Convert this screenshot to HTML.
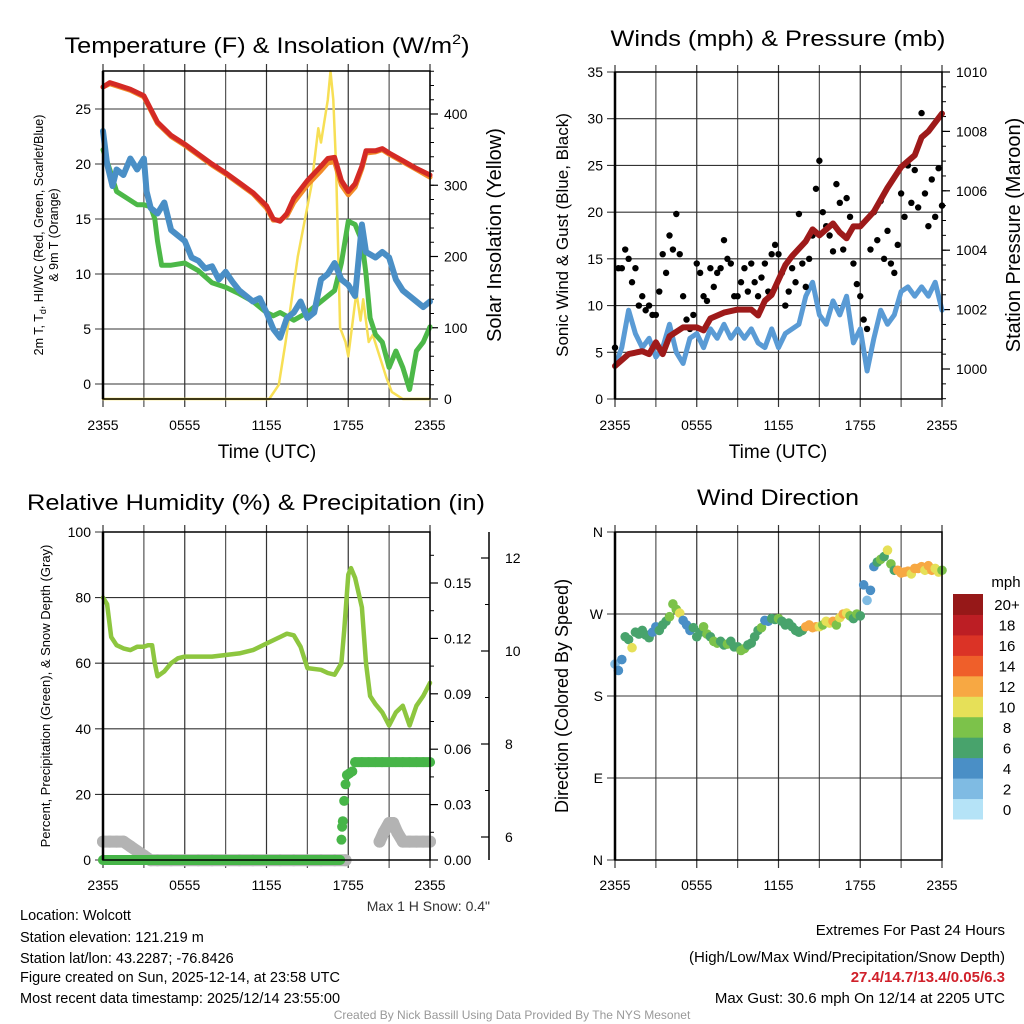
<!DOCTYPE html>
<html><head><meta charset="utf-8"><style>
html,body{margin:0;padding:0;background:#fff;}
svg{display:block;font-family:"Liberation Sans",Arial,sans-serif;}
</style></head><body>
<svg id="fig" width="1024" height="1024" viewBox="0 0 1024 1024" xmlns="http://www.w3.org/2000/svg">
<rect x="0" y="0" width="1024" height="1024" fill="#fff"/>
<g id="layer"></g>
<text x="267" y="53" font-size="22" text-anchor="middle" textLength="405" lengthAdjust="spacingAndGlyphs">Temperature (F) &amp; Insolation (W/m<tspan font-size="14" dy="-9">2</tspan><tspan dy="9">)</tspan></text>
<text x="778" y="46" font-size="22" text-anchor="middle" textLength="335" lengthAdjust="spacingAndGlyphs">Winds (mph) &amp; Pressure (mb)</text>
<text x="256" y="510" font-size="22" text-anchor="middle" textLength="458" lengthAdjust="spacingAndGlyphs">Relative Humidity (%) &amp; Precipitation (in)</text>
<text x="778" y="505" font-size="22" text-anchor="middle" textLength="162" lengthAdjust="spacingAndGlyphs">Wind Direction</text>

<text x="267" y="458" font-size="19" text-anchor="middle">Time (UTC)</text>
<text x="778" y="458" font-size="19" text-anchor="middle">Time (UTC)</text>
<text transform="translate(43,235) rotate(-90)" font-size="12.5" text-anchor="middle">2m T, T<tspan font-size="9" dy="3">d</tspan><tspan dy="-3">, HI/WC (Red, Green, Scarlet/Blue)</tspan></text>
<text transform="translate(58,235) rotate(-90)" font-size="12.5" text-anchor="middle">&amp; 9m T (Orange)</text>
<text transform="translate(501,235) rotate(-90)" font-size="20" text-anchor="middle">Solar Insolation (Yellow)</text>
<text transform="translate(568,235) rotate(-90)" font-size="17" text-anchor="middle">Sonic Wind &amp; Gust (Blue, Black)</text>
<text transform="translate(1020,235) rotate(-90)" font-size="20" text-anchor="middle">Station Pressure (Maroon)</text>
<text transform="translate(50,696) rotate(-90)" font-size="13" text-anchor="middle">Percent, Precipitation (Green), &amp; Snow Depth (Gray)</text>
<text transform="translate(568,696) rotate(-90)" font-size="18" text-anchor="middle">Direction (Colored By Speed)</text>
<text x="490" y="911" font-size="14" text-anchor="end" fill="#333">Max 1 H Snow: 0.4"</text>

<g font-size="14.5">
<text x="20" y="920">Location: Wolcott</text>
<text x="20" y="942">Station elevation: 121.219 m</text>
<text x="20" y="963">Station lat/lon: 43.2287; -76.8426</text>
<text x="20" y="982">Figure created on Sun, 2025-12-14, at 23:58 UTC</text>
<text x="20" y="1003">Most recent data timestamp: 2025/12/14 23:55:00</text>
</g>
<g font-size="15" text-anchor="end">
<text x="1005" y="935">Extremes For Past 24 Hours</text>
<text x="1005" y="962">(High/Low/Max Wind/Precipitation/Snow Depth)</text>
<text x="1005" y="982" fill="#d0202a" font-weight="bold">27.4/14.7/13.4/0.05/6.3</text>
<text x="1005" y="1003">Max Gust: 30.6 mph On 12/14 at 2205 UTC</text>
</g>
<text x="512" y="1019" font-size="12" text-anchor="middle" fill="#999">Created By Nick Bassill Using Data Provided By The NYS Mesonet</text>
</svg>
<script>
// ---------- data ----------
const xTickLabels = ["2355","0555","1155","1755","2355"];
const tempLeftTicks = [0,5,10,15,20,25];
const insolTicks = [0,100,200,300,400];
const windTicks = [0,5,10,15,20,25,30,35];
const pressTicks = [1000,1002,1004,1006,1008,1010];
const rhTicks = [0,20,40,60,80,100];
const precipTicks = [0.00,0.03,0.06,0.09,0.12,0.15];
const snowTicks = [6,8,10,12];
const dirTicks = ["N","E","S","W","N"];
const speedBins = ["0","2","4","6","8","10","12","14","16","18","20+"];
const speedColors = ["#b5e3f7","#7fbbe3","#4a8fc6","#48a36c","#7cc24a","#e6e058","#f7a843","#ef5f2a","#db3326","#bc1e24","#961818"];

const tempHours = [0,0.5,1,2,3,3.5,4,5,6,7,8,9,10,11,12,12.5,13,13.5,14,15,16,16.5,17,17.5,18,18.5,19,19.3,20,20.5,21,22,23,24];
const tempValues = [27.0,27.4,27.2,26.8,26.2,25.0,23.8,22.6,21.8,20.9,20.0,19.2,18.3,17.4,16.2,15.0,14.8,15.5,16.9,18.5,19.8,20.5,20.6,18.5,17.5,18.2,19.8,21.2,21.2,21.4,21.0,20.3,19.6,19.0];
const temp9mValues = [27.0,27.3,27.1,26.7,26.1,24.9,23.7,22.5,21.7,20.8,19.9,19.1,18.2,17.3,16.0,14.9,14.9,15.3,16.5,18.1,19.4,20.1,20.2,18.1,17.2,17.9,19.6,21.0,21.1,21.3,20.9,20.2,19.5,18.8];
const dewHours = [0,0.5,1,2,2.5,3,3.5,3.8,4,4.3,5,6,7,8,9,10,11,12,12.5,13,14,15,16,17,17.5,18,18.5,19,19.3,19.6,20,20.5,21,21.5,22,22.5,23,23.5,24];
const dewValues = [21.3,19.5,17.5,16.7,16.3,16.3,16.1,15.0,13.0,10.8,10.8,11.0,10.3,9.2,8.8,8.2,7.5,6.5,6.2,6.5,5.8,6.5,7.5,8.5,11.0,14.8,14.5,13.0,10.0,6.0,4.5,3.8,1.5,3.0,1.5,-0.5,3.0,3.8,5.2];
const wcHours = [0,0.3,0.7,1,1.5,2,2.5,3,3.2,3.5,4,4.5,5,5.5,6,6.5,7,7.5,8,8.5,9,9.5,10,10.5,11,11.5,12,12.5,13,13.5,14,14.5,15,15.5,16,16.5,17,17.5,18,18.5,19,19.3,20,20.5,21,21.5,22,22.5,23,23.5,24];
const wcValues = [23,20,18,19.5,19,20.5,19.5,20.5,17.5,16,15.5,16.5,14,13.5,13,11.5,11.2,10.5,10.7,9.5,10.2,9.3,8.5,8,7.5,7.8,6.5,5,4.2,6,6.5,7.5,6,6.5,9.5,10,11,9.5,9,8,14.5,12,11.5,12,11.5,9.5,8.5,8,7.5,7,7.5];
const insolHours = [0,12.2,12.9,13.4,14.3,15.3,15.8,16,16.5,16.7,16.9,17.1,17.4,17.8,18,18.4,18.6,18.9,19.1,19.5,19.8,20.3,20.8,21.2,22,24];
const insolValues = [0,0,20,80,200,300,380,360,420,460,420,330,100,80,60,120,150,110,140,80,90,60,30,10,0,0];

const pressHours = [0,1,2,2.5,3,3.5,4,5,6,6.5,7,8,9,10,10.5,11,11.5,12,12.5,13,14,14.5,15,16,16.5,17,17.5,18,19,20,21,22,22.5,23,24];
const pressValues = [1000.1,1000.5,1000.6,1000.5,1000.9,1000.5,1001.1,1001.4,1001.4,1001.3,1001.7,1001.9,1002.0,1002.0,1001.8,1002.3,1002.5,1003.0,1003.5,1003.8,1004.3,1004.7,1004.5,1004.9,1004.6,1004.4,1004.8,1004.8,1005.3,1006.1,1006.8,1007.2,1007.8,1008.0,1008.6];
const windValues = [3.5,5.5,9.5,7,5.5,6.5,4.5,5.5,8,5,3.8,6.5,7,5.5,7.5,6.5,8,6.5,7.5,6.5,7.5,6,5.5,7.5,5.5,7,7.5,8,11,12.5,9,8,10.5,9,11,6,7.5,3,6.5,9.5,8,9,11.5,12,11,12,11,12.5,9.5];
const gustValues = [5.5,14,14,16,15,12.5,14,10,11,9.5,10,9,
 9,11.5,15.5,13.5,17.5,16,19.8,15.5,11,8.5,7.5,9,
 14.5,13.5,11,10.5,14,12,13.5,14,17,15,14.5,11,
 11,12.5,14,11.5,14.5,12.5,11,13,14.5,11.5,15.5,16.5,
 15.5,13.5,10,11.5,14,12.5,19.8,14.5,12,15,17.5,22.5,
 25.5,20,18.5,17.5,15.8,23,21,16,21.5,19.5,14.5,12.3,
 11,8.5,7.5,16,20,17,21.2,15,18,14.5,13.5,16.5,
 22,19.5,25,21,24.5,20.5,30.6,22,18.5,23.5,19.5,24.7,20.7];

const rhHours = [0,0.3,0.6,1,1.5,2,2.5,3,3.3,3.6,3.8,4,4.5,5,5.5,6,7,8,9,10,11,12,13,13.5,14,14.5,15,16,16.5,17,17.5,17.7,18,18.2,18.5,19,19.3,19.6,20,20.5,21,21.5,22,22.5,23,23.5,24];
const rhValues = [80,78,68,65.5,64.5,64,65,65,65.5,65.5,60,56,57.5,60,61.5,62,62,62,62.5,63,64,66,68,69,68.5,65,58.5,58,57,56.5,60,70,87,89,86,77,60,50,47.5,45,41,45,47,41,47,50,54];
const precipHours = [0,1,2,3,4,5,6,7,8,9,10,11,12,13,14,15,16,17,17.4,17.5,17.55,17.6,17.7,17.8,17.9,18.1,18.3,18.5,19,19.5,20,20.5,21,21.5,22,22.5,23,23.5,24];
const precipValues = [0,0,0,0,0,0,0,0,0,0,0,0,0,0,0,0,0,0,0,0.011,0.018,0.021,0.032,0.041,0.046,0.047,0.048,0.053,0.053,0.053,0.053,0.053,0.053,0.053,0.053,0.053,0.053,0.053,0.053];
const snowHours = [0,0.5,1,1.5,2,2.5,3,3.5,4,5,6,7,8,9,10,11,12,13,14,15,16,17,17.8,20.3,20.6,21,21.3,21.6,22,22.5,23,23.5,24];
const snowValues = [5.9,5.9,5.9,5.9,5.8,5.7,5.6,5.5,5.5,5.5,5.5,5.5,5.5,5.5,5.5,5.5,5.5,5.5,5.5,5.5,5.5,5.5,5.5,5.9,6.1,6.3,6.3,6.1,5.9,5.9,5.9,5.9,5.9];

const dirValues = [215,208,220,245,242,233,250,248,252,247,244,250,
 256,252,258,262,267,281,275,271,263,258,252,255,
 245,250,256,248,245,240,238,240,236,237,240,234,
 234,230,232,236,238,245,252,255,263,262,265,264,
 265,262,258,260,256,252,250,252,256,258,255,256,
 256,258,262,260,262,258,266,270,271,268,265,270,
 268,302,285,296,322,327,330,333,340,325,318,318,
 315,316,317,314,320,320,322,318,323,318,320,316,318];
const speedValues = [3,4,5,7,7,10,7,6,7,6,7,5,
 5,6,7,7,8,8,8,10,4,4,5,6,
 6,7,8,8,7,8,8,6,7,8,7,7,
 7,8,8,7,6,6,7,8,4,5,7,6,
 8,7,6,7,6,7,7,6,13,12,13,12,
 11,8,10,11,13,8,10,12,11,9,7,8,
 6,5,3,4,5,7,8,7,10,8,6,13,
 12,13,12,11,12,13,12,10,12,13,11,10,9];

// ---------- drawing ----------
const NS = "http://www.w3.org/2000/svg";
const layer = document.getElementById("layer");
function mk(tag, attrs, parent){
  const e = document.createElementNS(NS, tag);
  for (const k in attrs) e.setAttribute(k, attrs[k]);
  (parent || layer).appendChild(e);
  return e;
}
function linScale(d0,d1,r0,r1){ return v => r0 + (v-d0)*(r1-r0)/(d1-d0); }
function pathFrom(xs, ys, fx, fy){
  let d = "";
  for (let i=0;i<xs.length;i++) d += (i?"L":"M") + fx(xs[i]).toFixed(1) + "," + fy(ys[i]).toFixed(1);
  return d;
}
function stepHours(n, step){ const a=[]; for(let i=0;i<n;i++) a.push(i*step); return a; }

function frame(P, name, lblOff){
  const g = mk("g", {});
  
  
  for (let i=0;i<=8;i++){
    const x = P.x(i*3);
    const l = mk("line", {x1:x, x2:x, y1:P.T-7, y2:P.B+8, stroke: (i%2? "#555":"#333"), "stroke-width":1.2}, g);
    
    
  }
  for (let i=0;i<xTickLabels.length;i++){
    const t = mk("text", {x:P.x(i*6), y:P.B+lblOff, "font-size":14, "text-anchor":"middle"}, g);
    t.textContent = xTickLabels[i];
    
    
  }
  return g;
}
function hGrid(P, ticks, fy, labels, name){
  const g = mk("g", {});
  
  
  for (let i=0;i<ticks.length;i++){
    const y = fy(ticks[i]);
    const l = mk("line", {x1:P.L-8, x2:P.R, y1:y, y2:y, stroke:"#333", "stroke-width":1.1}, g);
    
    
    const t = mk("text", {x:P.L-12, y:y+5, "font-size":14, "text-anchor":"end"}, g);
    t.textContent = labels ? labels[i] : ticks[i];
    
    
  }
}
function rightAxis(P, ticks, fy, fmt, minors, name, ax, lab){
  const g = mk("g", {});
  
  
  const X = ax || P.R;
  for (const m of minors){
    const l = mk("line", {x1:X, x2:X+(ax?-4:4), y1:fy(m), y2:fy(m), stroke:"#000", "stroke-width":1}, g);
    
    
  }
  for (const v of ticks){
    const y = fy(v);
    const l = mk("line", {x1:X, x2:X+(ax?-8:8), y1:y, y2:y, stroke:"#000", "stroke-width":1.2}, g);
    
    
    const t = mk("text", {x:(lab||X+14), y:y+5, "font-size":14}, g);
    t.textContent = fmt(v);
    
    
  }
}
function border(P, name){
  const r = mk("rect", {x:P.L, y:P.T, width:P.R-P.L, height:P.B-P.T, fill:"none", stroke:"#000", "stroke-width":1.5});
  
  
  const l = mk("line", {x1:P.L, x2:P.L, y1:P.T, y2:P.B, stroke:"#000", "stroke-width":2.5});
  
  
}
function line(d, color, w, name){
  const p = mk("path", {d:d, fill:"none", stroke:color, "stroke-width":w, "stroke-linejoin":"round", "stroke-linecap":"round"});
  
  
  return p;
}

// Panel 1: temperature
const P1 = {L:103, R:430, T:71, B:399};
P1.x = linScale(0,24,P1.L,P1.R);
const t1 = linScale(0,25,384,109);
const i1 = linScale(0,400,399,114);
frame(P1, 'temp', 31);
hGrid(P1, tempLeftTicks, t1, null, 'temp-y-axis');
const insMinor=[]; for(let v=20; v<=460; v+=20) insMinor.push(v);
rightAxis(P1, insolTicks, i1, v=>v, insMinor, 'insolation-axis');
line(pathFrom(insolHours, insolValues, P1.x, i1), "#f7df55", 2.5, 'insolation-line');
line(pathFrom(dewHours, dewValues, P1.x, t1), "#4cb848", 5, 'dewpoint-line');
line(pathFrom(wcHours, wcValues, P1.x, t1), "#4a8fc6", 6, 'windchill-line');
line(pathFrom(tempHours, temp9mValues, P1.x, t1), "#f28c28", 5, 'temp-9m-line');
line(pathFrom(tempHours, tempValues, P1.x, t1), "#d42a25", 5, 'temp-2m-line');
border(P1, 'temp');

// Panel 2: winds & pressure
const P2 = {L:615, R:942, T:72, B:399};
P2.x = linScale(0,24,P2.L,P2.R);
const w2 = linScale(0,35,399,72);
const p2 = linScale(1000,1010,369,72);
frame(P2, 'wind', 31);
hGrid(P2, windTicks, w2, null, 'wind-y-axis');
const pMinor=[]; for(let v=999; v<=1010; v+=0.5) pMinor.push(v);
rightAxis(P2, pressTicks, p2, v=>v, pMinor, 'pressure-axis');
line(pathFrom(stepHours(windValues.length,0.5), windValues, P2.x, w2), "#5a9bd5", 5, 'sonic-wind-line');
const gustG = mk("g", {});


for (let i=0;i<gustValues.length;i++){
  const c = mk("circle", {cx:P2.x(i*0.25), cy:w2(gustValues[i]), r:3.2, fill:"#000"}, gustG);
  
  
}
line(pathFrom(pressHours, pressValues, P2.x, p2), "#9e1a1a", 6, 'pressure-line');
border(P2, 'wind');

// Panel 3: RH & precip
const P3 = {L:103, R:430, T:532, B:860};
P3.x = linScale(0,24,P3.L,P3.R);
const r3 = linScale(0,100,860,532);
const pr3 = linScale(0,0.15,860,583);
const s3 = linScale(6,8,837,744);
frame(P3, 'rh', 30);
hGrid(P3, rhTicks, r3, null, 'rh-y-axis');
const prMinor=[]; for(let v=0.015; v<0.18; v+=0.03) prMinor.push(v);
rightAxis(P3, precipTicks, pr3, v=>v.toFixed(2), prMinor, 'precip-axis');
const snowAxis = mk("line", {x1:489, x2:489, y1:532, y2:860, stroke:"#000", "stroke-width":1.5});


rightAxis(P3, snowTicks, s3, v=>v, [7,9,11], 'snow-depth-axis', 489, 505);
const snowG = mk("g", {});


for (let i=0;i<snowHours.length;i++){
  const c = mk("circle", {cx:P3.x(snowHours[i]), cy:s3(snowValues[i]), r:6, fill:"#b3b3b3"}, snowG);
  
  
}
line(pathFrom(snowHours.slice(0,23), snowValues.slice(0,23), P3.x, s3), "#b3b3b3", 12, 'snow-depth-line');
line(pathFrom(snowHours.slice(23), snowValues.slice(23), P3.x, s3), "#b3b3b3", 12, 'snow-depth-line-late');
const precG = mk("g", {});


line(pathFrom(precipHours.slice(0,19), precipValues.slice(0,19), P3.x, pr3), "#47b548", 10, 'precip-zero-line');
line(pathFrom(precipHours.slice(27), precipValues.slice(27), P3.x, pr3), "#47b548", 10, 'precip-final-line');
for (let i=0;i<precipHours.length;i++){
  const c = mk("circle", {cx:P3.x(precipHours[i]), cy:pr3(precipValues[i]), r:5, fill:"#47b548"}, precG);
  
  
}
line(pathFrom(rhHours, rhValues, P3.x, r3), "#8dc63f", 4.5, 'rh-line');
border(P3, 'rh');

// Panel 4: wind direction
const P4 = {L:615, R:942, T:532, B:860};
P4.x = linScale(0,24,P4.L,P4.R);
const d4 = linScale(0,360,860,532);
frame(P4, 'dir', 30);
hGrid(P4, [0,90,180,270,360], d4, dirTicks, 'dir-y-axis');
const dirG = mk("g", {});


for (let i=0;i<dirValues.length;i++){
  const bin = Math.min(10, Math.floor(speedValues[i]/2));
  const c = mk("circle", {cx:P4.x(i*0.25), cy:d4(dirValues[i]), r:4.8, fill:speedColors[bin]}, dirG);
  
  
}
border(P4, 'dir');

// colorbar
const cb = mk("g", {});


const cbT = 594, cbB = 819, cbH = (cbB-cbT)/speedBins.length;
for (let i=0;i<speedBins.length;i++){
  const y = cbB - (i+1)*cbH;
  const r = mk("rect", {x:953, y:y, width:30, height:cbH+0.5, fill:speedColors[i]}, cb);
  
  
  const t = mk("text", {x:1007, y:y+cbH/2+6, "font-size":15, "text-anchor":"middle"}, cb);
  t.textContent = speedBins[i];
  
  
}
const mph = mk("text", {x:1006, y:587, "font-size":15, "text-anchor":"middle"}, cb);
mph.textContent = "mph";


</script>
</body></html>
